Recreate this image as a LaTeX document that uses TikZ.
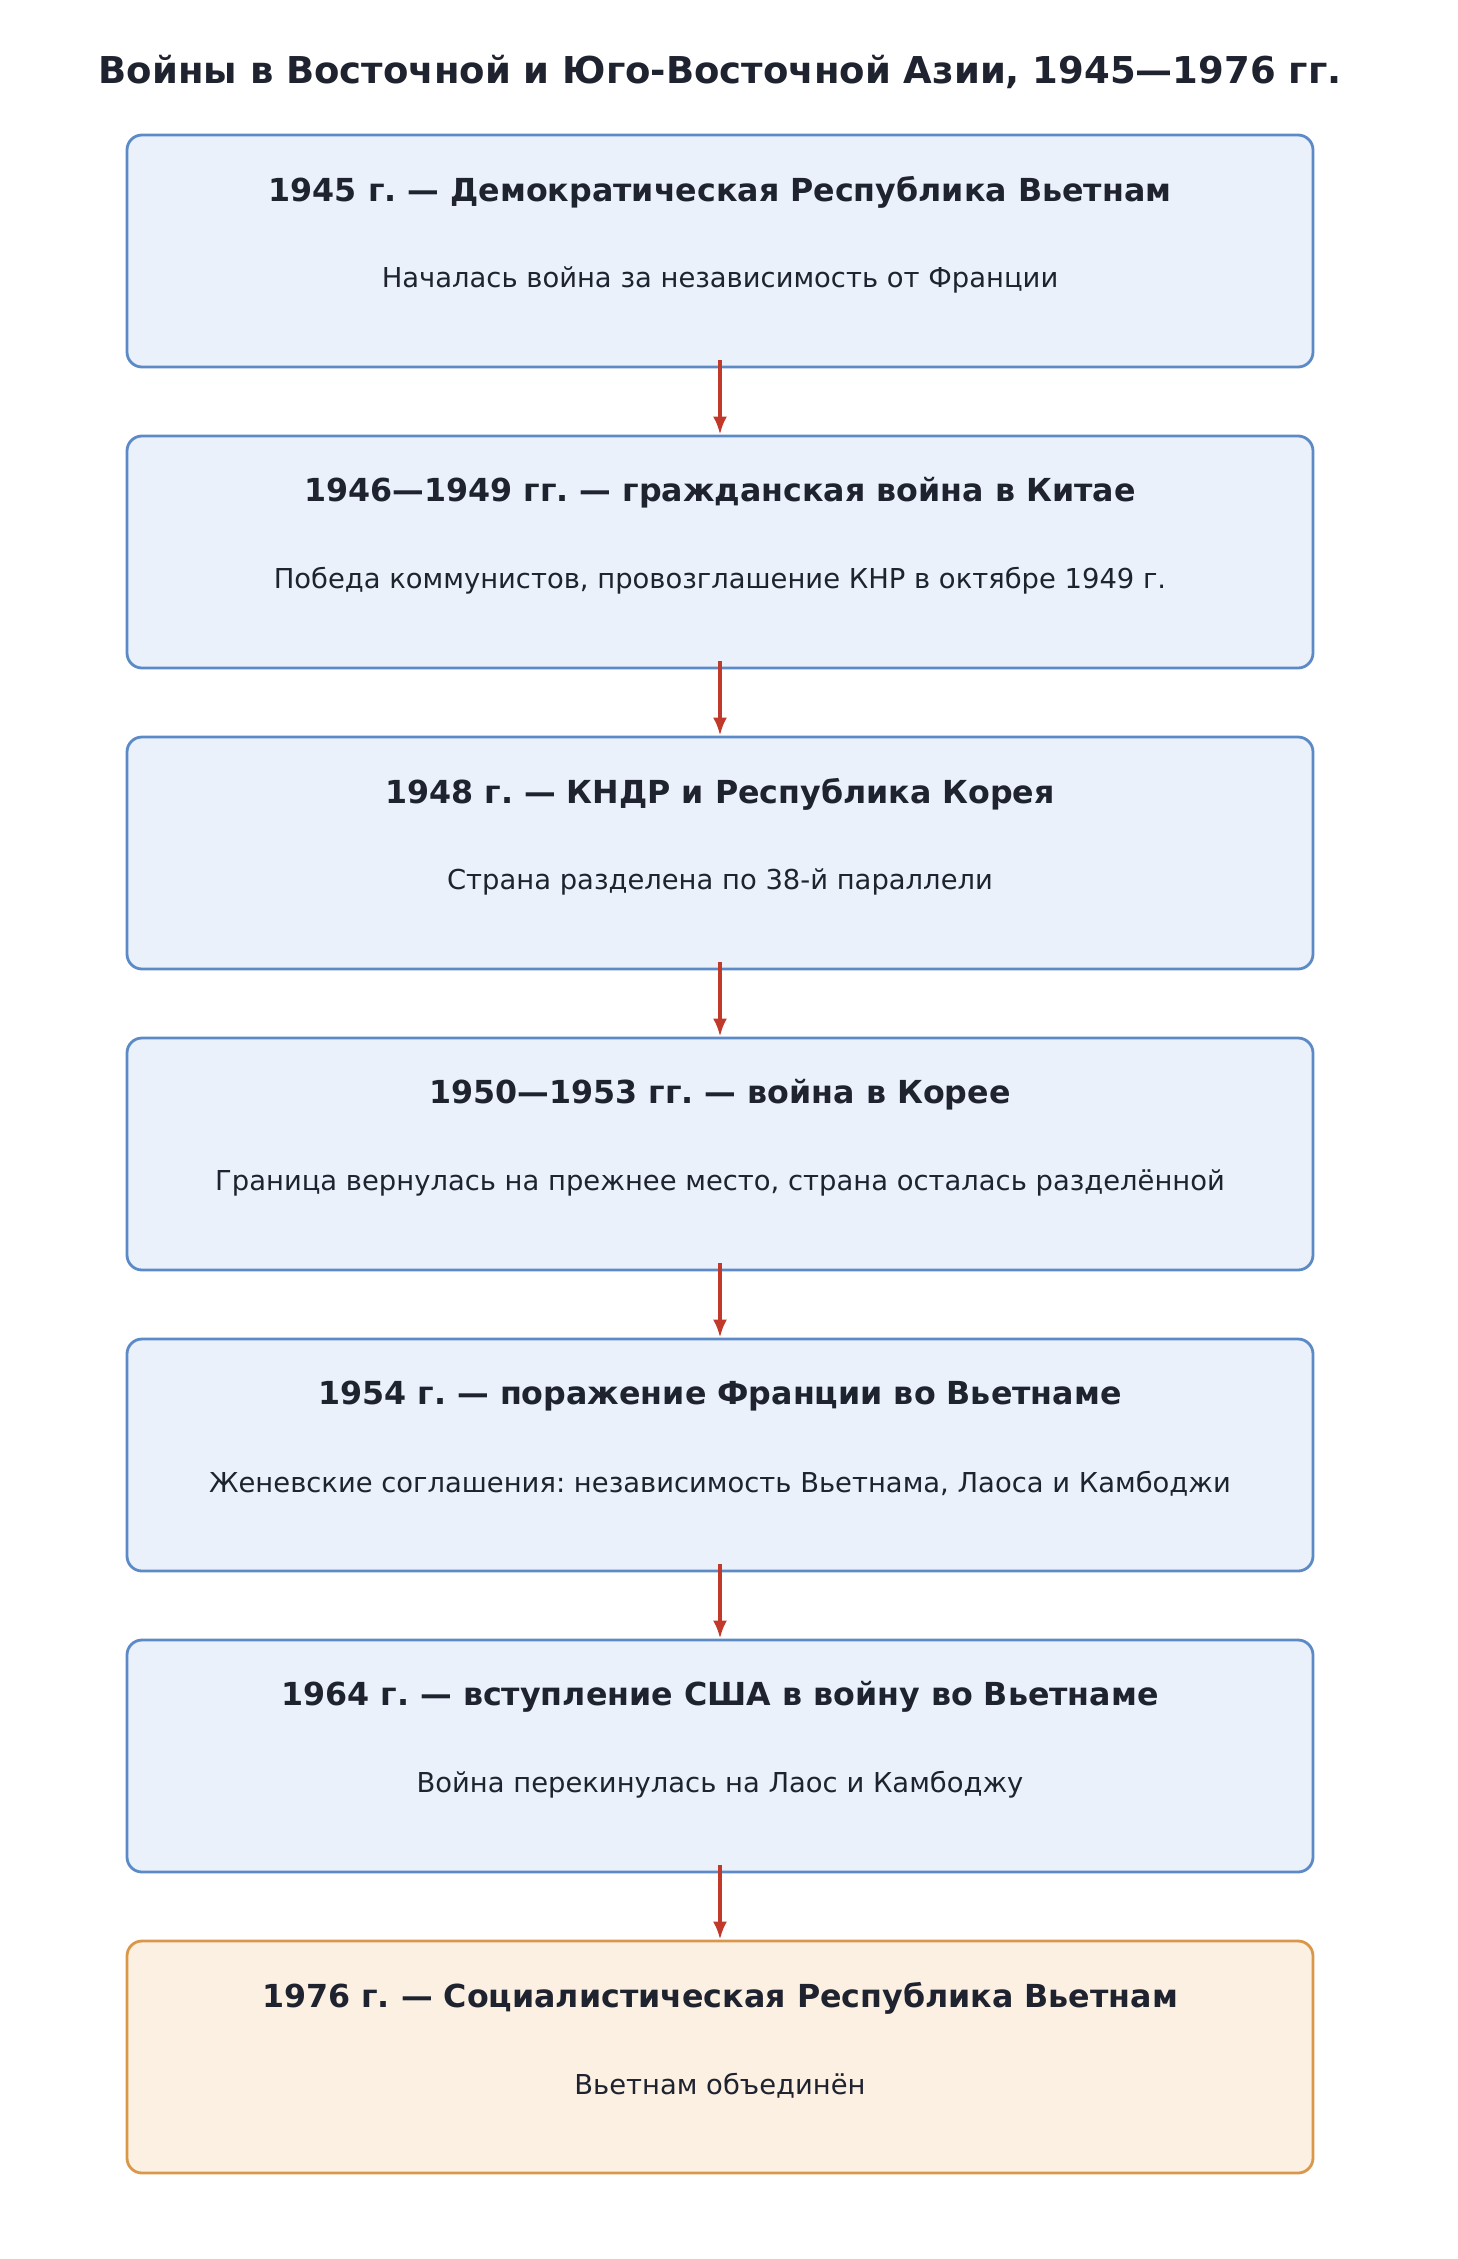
\documentclass[tikz,border=0pt]{standalone}
\usepackage{fontspec}
\setmainfont{DejaVu Sans}
\usetikzlibrary{arrows.meta}
\definecolor{bfill}{HTML}{EAF1FB}
\definecolor{bdraw}{HTML}{5B8AC6}
\definecolor{ofill}{HTML}{FCF0E2}
\definecolor{odraw}{HTML}{D9974A}
\definecolor{txt}{HTML}{1F2330}
\definecolor{arr}{HTML}{C0392B}
\tikzset{
 box/.style={draw=bdraw,fill=bfill,line width=2.8pt,rounded corners=15pt,minimum width=1186pt,minimum height=232pt,inner sep=0pt},
 obox/.style={box,draw=odraw,fill=ofill},
 hd/.style={font=\bfseries\fontsize{31.7}{38}\selectfont,text=txt},
 sb/.style={font=\fontsize{27.4}{33}\selectfont,text=txt},
 ar/.style={draw=arr,line width=3.5pt,-{Latex[length=18pt,width=14pt]}}
}
\begin{document}
\frenchspacing
\begin{tikzpicture}[x=1pt,y=-1pt]
\useasboundingbox (0,0) rectangle (1458,2259);
\node[font=\bfseries\fontsize{37}{44}\selectfont,text=txt] (title) at (720,72) {Войны в Восточной и Юго-Восточной Азии, 1945—1976 гг.};
\foreach \i/\h/\s/\st in {
0/{1945 г. — Демократическая Республика Вьетнам}/{Началась война за независимость от Франции}/box,
1/{1946—1949 гг. — гражданская война в Китае}/{Победа коммунистов, провозглашение КНР в октябре 1949 г.}/box,
2/{1948 г. — КНДР и Республика Корея}/{Страна разделена по 38-й параллели}/box,
3/{1950—1953 гг. — война в Корее}/{Граница вернулась на прежнее место, страна осталась разделённой}/box,
4/{1954 г. — поражение Франции во Вьетнаме}/{Женевские соглашения: независимость Вьетнама, Лаоса и Камбоджи}/box,
5/{1964 г. — вступление США в войну во Вьетнаме}/{Война перекинулась на Лаос и Камбоджу}/box,
6/{1976 г. — Социалистическая Республика Вьетнам}/{Вьетнам объединён}/obox}{
 \node[\st] (b\i) at (720,{251+301*\i}) {};
 \node[hd] (h\i) at (720,{192+301*\i}) {\h};
 \node[sb] (s\i) at (720,{280+301*\i}) {\s};
}
\foreach \i [evaluate=\i as \j using int(\i+1)] in {0,...,5}{
 \draw[ar] ([yshift=8pt]b\i.south) -- (b\j.north);
}
\end{tikzpicture}
\end{document}
